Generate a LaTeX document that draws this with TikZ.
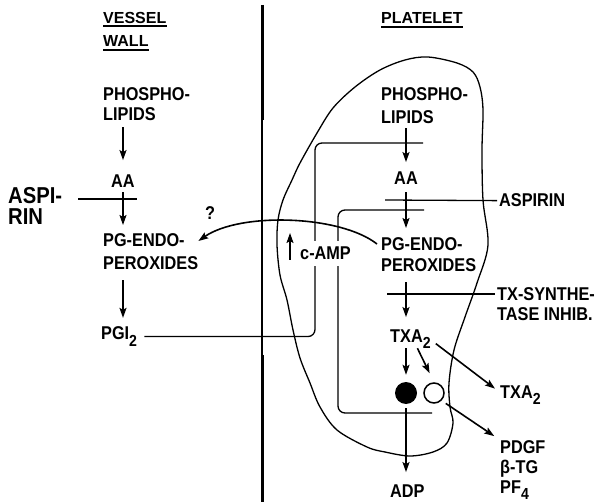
\documentclass[tikz,border=0pt]{standalone}
\usepackage{fontspec}
\setmainfont{Liberation Sans}[FakeStretch=0.88]
\newfontfamily\headfont{Liberation Sans}
\usetikzlibrary{arrows.meta,calc}

\newcommand{\lowsub}[1]{\raisebox{-6pt}{\fontsize{16}{16}\selectfont #1}}

\begin{document}
\begin{tikzpicture}[x=1pt,y=-1pt,
  txt/.style={font=\fontsize{18.5}{#1}\selectfont\bfseries, inner sep=0pt, align=left},
  txt/.default=21,
  hdr/.style={font=\headfont\fontsize{16}{18}\selectfont\bfseries, inner sep=0pt},
  uline/.style={line width=1.6pt},
  wall/.style={line width=3pt},
  thin/.style={line width=1.3pt},
  arr/.style={line width=1.6pt, -{Stealth[length=10pt,width=7pt,inset=2pt]}},
  membrane/.style={line width=1.3pt}
]
\useasboundingbox (0,0) rectangle (610,502);

% vessel wall / platelet boundary
\draw[wall] (262,5) -- (262,120);
\draw[thin] (262,120) -- (262,355);
\draw[wall] (262,355) -- (262,502);

% headings
\node[hdr, anchor=base west] (vessel) at (103,24) {VESSEL};
\node[hdr, anchor=base west] (wallh) at (103,47) {WALL};
\node[hdr, anchor=base west] (plate) at (381,24) {PLATELET};
\draw[uline] ([yshift=-2pt]vessel.base west) -- ([yshift=-2pt]vessel.base east);
\draw[uline] ([yshift=-3pt]wallh.base west) -- ([yshift=-3pt]wallh.base east);
\draw[uline] ([yshift=-3pt]plate.base west) -- ([yshift=-3pt]plate.base east);

% platelet outline
\draw[membrane] plot[smooth cycle, tension=0.55] coordinates {
  (428,57) (457,63) (473,72) (480,87) (483,110) (482,150) (483,200)
  (488,245) (477,283) (465,317) (454,350) (449,383) (450,407) (453,423)
  (447,443) (433,452) (410,456) (385,452) (367,447) (337,430) (320,407)
  (310,383) (300,358) (293,330) (287,300) (280,275) (277,245) (278,220)
  (283,200) (292,180) (300,163) (317,133) (333,108) (355,87) (380,70)
  (405,60)};

% vessel wall pathway
\node[txt=20, anchor=north west] (lphos) at (103,87) {PHOSPHO-\\LIPIDS};
\node[txt, anchor=base] (laa) at (123,188) {AA};
\node[txt=23, anchor=north west] (lpg) at (103,233) {PG-ENDO-\\PEROXIDES};
\node[txt, anchor=base west] (lpgi) at (101,340) {PGI\lowsub{2}};
\node[txt=21, font=\fontsize{23}{21}\selectfont\bfseries, anchor=north west]
  (laspirin) at (8,187) {ASPI-\\RIN};
\node[txt, anchor=base] (quest) at (210,220) {?};

\draw[arr, shorten <=7pt, shorten >=15pt] (lphos.south -| laa) -- (laa.north);
\draw[arr, shorten <=4pt, shorten >=8pt] (laa.south) -- (laa.south |- lpg.north);
\draw[arr, shorten <=11pt, shorten >=9pt] (lpg.south -| laa) -- (laa |- lpgi.north);

\coordinate (lbar1) at (78,199);
\coordinate (lbar2) at (137,199);
\draw[thin] (lbar1) -- (lbar2);

% platelet pathway
\node[txt=23, anchor=north west] (rphos) at (381,87) {PHOSPHO-\\LIPIDS};
\node[txt, anchor=base] (raa) at (406,185) {AA};
\node[txt=21, anchor=north west] (rpg) at (381,237) {PG-ENDO-\\PEROXIDES};
\node[txt, anchor=base west] (txa) at (390,342) {TXA\lowsub{2}};
\node[circle, fill, minimum size=22pt, inner sep=0pt] (gran) at (406,393) {};
\node[circle, draw, line width=1.5pt, minimum size=20pt, inner sep=0pt] (dense) at (434,393) {};
\node[txt, anchor=base west] (adp) at (390,497) {ADP};
\node[txt, anchor=base west] (txout) at (500,398) {TXA\lowsub{2}};
\node[txt=20, anchor=north west] (rel) at (500,440) {PDGF\\β-TG\\PF\lowsub{4}};

\draw[arr, shorten <=5pt, shorten >=10pt] (rphos.south -| raa) -- (raa.north);
\draw[arr, shorten <=7pt, shorten >=9pt] (raa.south) -- (raa.south |- rpg.north);
\draw[arr, shorten <=11pt, shorten >=12pt] (rpg.south -| raa) -- (raa |- txa.north);
\draw[arr, shorten >=7pt] (txa.south -| gran) -- (gran.north);
\draw[arr, shorten >=10pt] ([xshift=7pt]txa.south) -- (dense.north);
\draw[arr] ([shift={(5pt,-5pt)}]txa.east) -- ([shift={(-5pt,6pt)}]txout.west);
\draw[arr, shorten <=5pt, shorten >=7pt] (dense.south east) -- (rel.north west);
\draw[arr, shorten <=4pt, shorten >=12pt] (gran.south) -- (gran.south |- adp.north);

% inhibitors
\node[txt, anchor=base west] (aspr) at (499,207) {ASPIRIN};
\node[txt=20, anchor=north west] (txinh) at (497,287) {TX-SYNTHE-\\TASE INHIB.};
\coordinate (abar) at (385,200);
\draw[thin] (abar) -- ([xshift=-2pt]aspr.west);
\coordinate (tbar) at (387,294);
\draw[thin] (tbar) -- ([shift={(-2pt,-7pt)}]txinh.north west);

% PGI2 -> c-AMP feedback lines
\coordinate (cA) at (315,143);
\coordinate (barA) at (423,143);
\draw[thin, rounded corners=7pt, shorten <=7pt] (lpgi.east) -| (cA) -- (barA);
\coordinate (cB) at (338,210);
\coordinate (barB) at (424,210);
\coordinate (barC) at (432,413);
\draw[thin, rounded corners=7pt] (barC) -| (cB) -- (barB);
\node[txt, anchor=base west, fill=white, inner xsep=1pt, inner ysep=6pt] (camp) at (299,260) {c-AMP};
\draw[arr] ([xshift=-9pt]camp.base west) -- ++(0,-27);

% endoperoxide steal
\draw[arr] ([shift={(-4pt,-7pt)}]rpg.north west)
  .. controls (340,215) and (240,212) .. ([shift={(0pt,-8pt)}]lpg.north east);

\end{tikzpicture}
\end{document}
